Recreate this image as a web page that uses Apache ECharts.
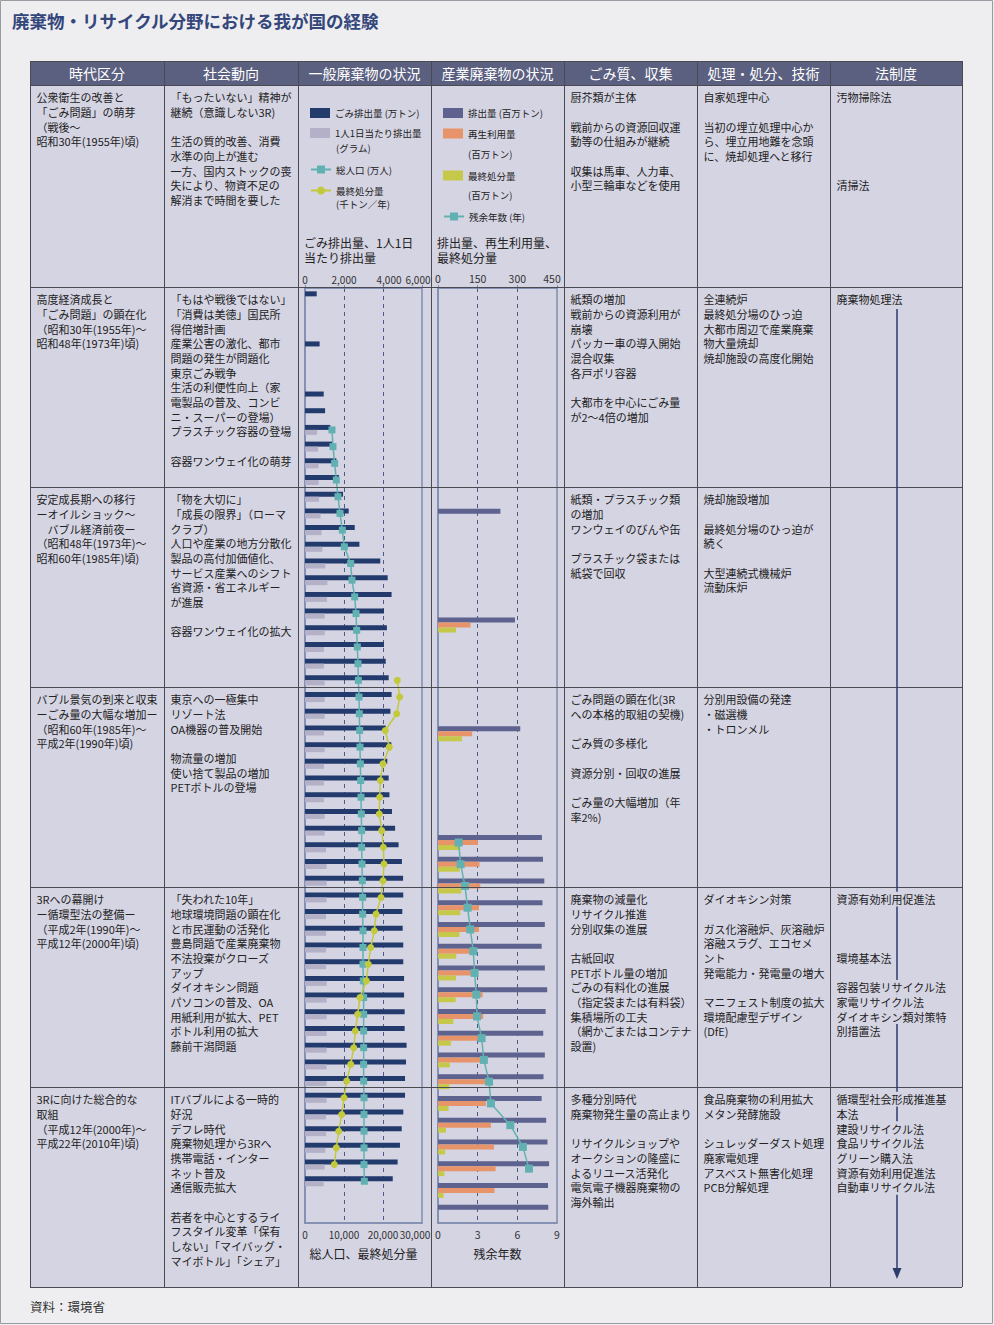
<!DOCTYPE html>
<html><head><meta charset="utf-8">
<script src="https://cdn.jsdelivr.net/npm/echarts@6/dist/echarts.min.js"></script>
<style>html,body{margin:0;padding:0;background:#eeeef1}#c{width:994px;height:1325px}</style>
</head><body><div id="c"></div><script>
const FONT = '"Noto Sans CJK JP","Noto Sans",sans-serif';

// ===== 一般廃棄物 (general waste): 56 time slots, top to bottom =====
const genSlots = ['1','2','3','4','5','6','7','8','9','10','11','12','13','14','15','16','17','18','19','20','21','22','23','24','25','26','27','28','29','30','31','32','33','34','35','36','37','38','39','40','41','42','43','44','45','46','47','48','49','50','51','52','53','54','55','56'];
const gomiTotal = [600,null,null,750,null,null,960,1030,1300,1400,1610,1740,1950,2240,2550,2790,3860,4240,4440,4050,4200,4050,4140,4290,4440,4380,4140,4430,4220,4290,4330,4460,4620,4800,4970,5030,5040,4990,5010,5040,5040,5080,5080,5110,5110,5210,5180,5130,5130,5040,4960,4870,4750,4500,null,null];
const gomiPerCapita = [null,null,null,null,null,null,null,null,620,670,700,700,720,800,850,890,1040,1150,1130,1010,1010,970,970,1010,1010,1010,970,1010,970,970,970,1010,1010,1080,1110,1110,1110,1080,1080,1080,1080,1110,1110,1110,1110,1110,1110,1110,1110,1080,1080,1040,1010,960,null,null];
const population = [null,null,null,null,null,null,null,null,6920,7180,7600,8030,8460,8970,9570,10080,11710,12050,12740,13080,13250,13420,13590,13680,13850,13930,14020,14100,14190,14270,14360,14440,14530,14530,14610,14700,14780,14780,14870,14870,14870,14950,15040,15040,15040,15040,15040,15040,15130,15130,15130,15130,15130,15210,null,null];
const finalGen = [null,null,null,null,null,null,null,null,null,null,null,null,null,null,null,null,null,null,null,null,null,null,null,23670,24280,23510,20590,21610,20000,19310,19150,19050,19670,20080,20260,20000,19490,18200,17770,16850,16230,15720,14100,13510,12900,12490,11720,10690,10000,9410,8640,8030,7510,null,null,null];
const genTopTicks = [0,2000,4000,6000];
const genBottomTicks = [0,10000,20000,30000];

// ===== 産業廃棄物 (industrial waste): 43 time slots =====
const indSlots = ['1','2','3','4','5','6','7','8','9','10','11','12','13','14','15','16','17','18','19','20','21','22','23','24','25','26','27','28','29','30','31','32','33','34','35','36','37','38','39','40','41','42','43'];
const indTotal = [null,null,null,null,null,null,null,null,null,null,236,null,null,null,null,291,null,null,null,null,311,null,null,null,null,393,397,402,395,404,392,404,413,407,398,404,399,392,409,414,420,416,417];
const indRecycled = [null,null,null,null,null,null,null,null,null,null,null,null,null,null,null,123,null,null,null,null,129,null,null,null,null,151,157,160,155,155,146,149,169,171,156,179,186,181,200,212,218,214,null];
const indFinal = [null,null,null,null,null,null,null,null,null,null,null,null,null,null,null,68,null,null,null,null,91,null,null,null,null,84,82,88,84,81,69,68,67,58,49,45,43,40,30,27,24,21,null];
const remainingYears = [null,null,null,null,null,null,null,null,null,null,null,null,null,null,null,null,null,null,null,null,null,null,null,null,null,1.56,1.71,2.04,2.24,2.44,2.67,2.77,2.90,2.95,3.30,3.47,3.86,4.00,5.47,6.42,6.88,null,null];
const indTopTicks = [0,150,300,450];
const indBottomTicks = [0,3,6,9];

// ===== table text =====
const headers = ['時代区分','社会動向','一般廃棄物の状況','産業廃棄物の状況','ごみ質、収集','処理・処分、技術','法制度'];
const colEra = [
 '公衆衛生の改善と\n「ごみ問題」の萌芽\n（戦後～\n昭和30年(1955年)頃)',
 '高度経済成長と\n「ごみ問題」の顕在化\n（昭和30年(1955年)～\n昭和48年(1973年)頃)',
 '安定成長期への移行\nーオイルショック～\n　バブル経済前夜ー\n（昭和48年(1973年)～\n昭和60年(1985年)頃)',
 'バブル景気の到来と収束\nーごみ量の大幅な増加ー\n（昭和60年(1985年)～\n平成2年(1990年)頃)',
 '3Rへの幕開け\nー循環型法の整備ー\n（平成2年(1990年)～\n平成12年(2000年)頃)',
 '3Rに向けた総合的な\n取組\n（平成12年(2000年)～\n平成22年(2010年)頃)'];
const colSociety = [
 '「もったいない」精神が\n継続（意識しない3R)\n\n生活の質的改善、消費\n水準の向上が進む\n一方、国内ストックの喪\n失により、物資不足の\n解消まで時間を要した',
 '「もはや戦後ではない」\n「消費は美徳」国民所\n得倍増計画\n産業公害の激化、都市\n問題の発生が問題化\n東京ごみ戦争\n生活の利便性向上（家\n電製品の普及、コンビ\nニ・スーパーの登場）\nプラスチック容器の登場\n\n容器ワンウェイ化の萌芽',
 '「物を大切に」\n「成長の限界」（ローマ\nクラブ）\n人口や産業の地方分散化\n製品の高付加価値化、\nサービス産業へのシフト\n省資源・省エネルギー\nが進展\n\n容器ワンウェイ化の拡大',
 '東京への一極集中\nリゾート法\nOA機器の普及開始\n\n物流量の増加\n使い捨て製品の増加\nPETボトルの登場',
 '「失われた10年」\n地球環境問題の顕在化\nと市民運動の活発化\n豊島問題で産業廃棄物\n不法投棄がクローズ\nアップ\nダイオキシン問題\nパソコンの普及、OA\n用紙利用が拡大、PET\nボトル利用の拡大\n藤前干潟問題',
 'ITバブルによる一時的\n好況\nデフレ時代\n廃棄物処理から3Rへ\n携帯電話・インター\nネット普及\n通信販売拡大\n\n若者を中心とするライ\nフスタイル変革「保有\nしない」「マイバッグ・\nマイボトル」「シェア」'];
const colCollection = [
 '厨芥類が主体\n\n戦前からの資源回収運\n動等の仕組みが継続\n\n収集は馬車、人力車、\n小型三輪車などを使用',
 '紙類の増加\n戦前からの資源利用が\n崩壊\nパッカー車の導入開始\n混合収集\n各戸ポリ容器\n\n大都市を中心にごみ量\nが2～4倍の増加',
 '紙類・プラスチック類\nの増加\nワンウェイのびんや缶\n\nプラスチック袋または\n紙袋で回収',
 'ごみ問題の顕在化(3R\nへの本格的取組の契機)\n\nごみ質の多様化\n\n資源分別・回収の進展\n\nごみ量の大幅増加（年\n率2%)',
 '廃棄物の減量化\nリサイクル推進\n分別収集の進展\n\n古紙回収\nPETボトル量の増加\nごみの有料化の進展\n（指定袋または有料袋）\n集積場所の工夫\n（網かごまたはコンテナ\n設置)',
 '多種分別時代\n廃棄物発生量の高止まり\n\nリサイクルショップや\nオークションの隆盛に\nよるリユース活発化\n電気電子機器廃棄物の\n海外輸出'];
const colTreatment = [
 '自家処理中心\n\n当初の埋立処理中心か\nら、埋立用地難を念頭\nに、焼却処理へと移行',
 '全連続炉\n最終処分場のひっ迫\n大都市周辺で産業廃棄\n物大量焼却\n焼却施設の高度化開始',
 '焼却施設増加\n\n最終処分場のひっ迫が\n続く\n\n大型連続式機械炉\n流動床炉',
 '分別用設備の発達\n・磁選機\n・トロンメル',
 'ダイオキシン対策\n\nガス化溶融炉、灰溶融炉\n溶融スラグ、エコセメ\nント\n発電能力・発電量の増大\n\nマニフェスト制度の拡大\n環境配慮型デザイン\n(DfE)',
 '食品廃棄物の利用拡大\nメタン発酵施設\n\nシュレッダーダスト処理\n廃家電処理\nアスベスト無害化処理\nPCB分解処理'];
const colLaw = [
 '汚物掃除法\n\n\n\n\n\n清掃法',
 '廃棄物処理法',
 '',
 '',
 '資源有効利用促進法\n\n\n\n環境基本法\n\n容器包装リサイクル法\n家電リサイクル法\nダイオキシン類対策特\n別措置法',
 '循環型社会形成推進基\n本法\n建設リサイクル法\n食品リサイクル法\nグリーン購入法\n資源有効利用促進法\n自動車リサイクル法'];

// ===== layout =====
const colX = [30,164,298,431,564,697,830,962];
const rowY = [61,85,287,487,687,887,1087,1287];
const CELL = '#d5d4e2';
const C_DARK = '#223a6c', C_LIGHT = '#b3b0c8', C_TEAL = '#62b1b2', C_YEL = '#c3c93c';
const C_PURP = '#5d628e', C_ORNG = '#e8946a', C_YEL2 = '#c6c84a';
const AX = '#7f8db0';
const LH = 14.7;

const g = [];
g.push({type:'rect', z:-100, shape:{x:0.5,y:0.5,width:992,height:1323}, style:{fill:'#eeeef1', stroke:'#9a9aa2', lineWidth:1}});
g.push({type:'rect', z:-99, shape:{x:colX[0],y:rowY[1],width:colX[7]-colX[0],height:rowY[7]-rowY[1]}, style:{fill:CELL}});
g.push({type:'rect', z:-99, shape:{x:colX[0],y:rowY[0],width:colX[7]-colX[0],height:rowY[1]-rowY[0]}, style:{fill:'#5b5f80'}});
rowY.forEach(y => g.push({type:'line', z:20, shape:{x1:colX[0],y1:y+0.5,x2:colX[7],y2:y+0.5}, style:{stroke:'#4a4a52', lineWidth:1}}));
colX.forEach(x => g.push({type:'line', z:20, shape:{x1:x+0.5,y1:rowY[0],x2:x+0.5,y2:rowY[7]}, style:{stroke:'#4a4a52', lineWidth:1}}));
headers.forEach((h,i) => g.push({type:'text', z:21, x:(colX[i]+colX[i+1])/2, y:73,
  style:{text:h, fill:'#ffffff', fontSize:14, fontFamily:FONT, align:'center', verticalAlign:'middle'}}));
const cols = [[0,colEra],[1,colSociety],[4,colCollection],[5,colTreatment]];
cols.forEach(([ci,arr]) => arr.forEach((t,ri) => { if (!t) return;
  g.push({type:'text', z:21, x:colX[ci]+6.5, y:rowY[ri+1]+4.8,
    style:{text:t, fill:'#222', fontSize:11, fontFamily:FONT, lineHeight:LH, align:'left', verticalAlign:'top'}}); }));
// law column: one text per line, with cell-coloured backing so the arrow passes behind the words
colLaw.forEach((t,ri) => { if (!t) return;
  t.split('\n').forEach((line,li) => { if (!line) return;
    g.push({type:'text', z:23, x:colX[6]+6.5, y:rowY[ri+1]+4.8+li*LH,
      style:{text:line, fill:'#222', fontSize:11, fontFamily:FONT, lineHeight:LH, align:'left', verticalAlign:'top', backgroundColor:CELL}}); }); });
// axis captions in row 1
g.push({type:'text', z:21, x:304, y:234.5, style:{text:'ごみ排出量、1人1日\n当たり排出量', fill:'#222', fontSize:12, fontFamily:FONT, lineHeight:15, verticalAlign:'top'}});
g.push({type:'text', z:21, x:437, y:234.5, style:{text:'排出量、再生利用量、\n最終処分量', fill:'#222', fontSize:12, fontFamily:FONT, lineHeight:15, verticalAlign:'top'}});
// legend second lines
[[336,148,'(グラム)'],[336,204,'(千トン／年)'],[468,154,'(百万トン)'],[468,195,'(百万トン)']].forEach(([x,y,t]) =>
  g.push({type:'text', z:21, x, y, style:{text:t, fill:'#222', fontSize:9.5, fontFamily:FONT, verticalAlign:'middle'}}));
// arrow in law column
g.push({type:'line', z:22, shape:{x1:897,y1:309,x2:897,y2:1270}, style:{stroke:'#2b3d6b', lineWidth:1.5}});
g.push({type:'polygon', z:22, shape:{points:[[892.5,1268],[901.5,1268],[897,1279]]}, style:{fill:'#2b3d6b'}});
g.push({type:'text', z:21, x:30, y:1306, style:{text:'資料：環境省', fill:'#333', fontSize:12.5, fontFamily:FONT, verticalAlign:'middle'}});

function shifted(shifts){
  const rich = {};
  Object.values(shifts).forEach(s => { rich['s'+(s<0?'m':'p')+Math.abs(s)] = {padding: s>0?[0,0,0,2*s]:[0,-2*s,0,0]}; });
  return {formatter: v => { const t = echarts.format.addCommas(v); const s = shifts[v]; return s ? `{s${s<0?'m':'p'}${Math.abs(s)}|${t}}` : t; }, rich};
}
function valAxis(gi, pos, ticks, split, shifts, name, fs){
  const lab = shifted(shifts);
  const ax = {gridIndex:gi, type:'value', position:pos, min:ticks[0], max:ticks[ticks.length-1], interval:ticks[1]-ticks[0],
    axisLine:{show:true, lineStyle:{color:AX, width:1.5}},
    axisTick:{show:pos==='top', length:3, lineStyle:{color:AX}},
    axisLabel:{margin:pos==='top'?4:6, fontSize:fs||10.5, color:'#333', fontFamily:FONT, showMinLabel:true, showMaxLabel:true, hideOverlap:false,
      formatter:lab.formatter, rich:lab.rich},
    splitLine: split ? {show:true, showMinLine:false, showMaxLine:false, lineStyle:{color:'#4c5a86', type:[4,4], width:1}} : {show:false}};
  if (name) { ax.name = name; ax.nameLocation = 'middle'; ax.nameGap = 24; ax.nameTextStyle = {fontSize:12, color:'#222', fontFamily:FONT}; }
  return ax;
}
function catAxis(gi, data){
  return {gridIndex:gi, type:'category', data, inverse:true, axisLine:{show:true, lineStyle:{color:AX, width:1.5}}, axisTick:{show:false}, axisLabel:{show:false}, splitLine:{show:false}};
}
function legendItem(name, label, left, cy, isLine){
  const o = {data:[name], left, top:cy-5, orient:'vertical', padding:0, itemWidth:20, itemHeight:10, selectedMode:false,
    textStyle:{fontSize:9.5, color:'#222', fontFamily:FONT, lineHeight:10}, formatter:() => label};
  if (!isLine) o.icon = 'rect';
  return o;
}

const N = {
  g1:'ごみ排出量 (万トン)', g2:'1人1日当たり排出量 (グラム)', g3:'総人口 (万人)', g4:'最終処分量 (千トン／年)',
  i1:'排出量 (百万トン)', i2:'再生利用量 (百万トン)', i3:'最終処分量 (百万トン)', i4:'残余年数 (年)'
};

const option = {
  animation:false,
  backgroundColor:'#eeeef1',
  title:{text:'廃棄物・リサイクル分野における我が国の経験', left:12, top:12, padding:0,
    textStyle:{fontSize:17.5, fontWeight:'bold', color:'#34467a', fontFamily:FONT}},
  graphic:{elements:g},
  legend:[
    legendItem(N.g1,'ごみ排出量 (万トン)',310,113,false),
    legendItem(N.g2,'1人1日当たり排出量',310,133,false),
    legendItem(N.g3,'総人口 (万人)',310,169.5,true),
    legendItem(N.g4,'最終処分量',310,190.5,true),
    legendItem(N.i1,'排出量 (百万トン)',443,113,false),
    legendItem(N.i2,'再生利用量',443,133.5,false),
    legendItem(N.i3,'最終処分量',443,175.5,false),
    legendItem(N.i4,'残余年数 (年)',443,216.5,true)
  ],
  grid:[
    {left:305, top:288, width:117, height:935, show:true, borderColor:AX, borderWidth:1.5, backgroundColor:'transparent'},
    {left:438, top:288, width:119, height:935, show:true, borderColor:AX, borderWidth:1.5, backgroundColor:'transparent'}
  ],
  xAxis:[
    valAxis(0,'top',genTopTicks,true,{4000:6,6000:-4},null,10),
    valAxis(0,'bottom',genBottomTicks,false,{30000:-7},'総人口、最終処分量',10),
    valAxis(1,'top',indTopTicks,true,{450:-5}),
    valAxis(1,'bottom',indBottomTicks,false,{},'残余年数')
  ],
  yAxis:[catAxis(0,genSlots), catAxis(1,indSlots)],
  series:[
    {name:N.g1, type:'bar', xAxisIndex:0, yAxisIndex:0, data:gomiTotal, barWidth:5, barGap:'0%', itemStyle:{color:C_DARK}},
    {name:N.g2, type:'bar', xAxisIndex:0, yAxisIndex:0, data:gomiPerCapita, barWidth:5, barGap:'0%', itemStyle:{color:C_LIGHT}},
    {name:N.g3, type:'line', xAxisIndex:1, yAxisIndex:0, data:population, symbol:'rect', symbolSize:7, z:5,
      itemStyle:{color:C_TEAL}, lineStyle:{color:C_TEAL, width:1.5}},
    {name:N.g4, type:'line', xAxisIndex:1, yAxisIndex:0, data:finalGen, symbol:'circle', symbolSize:7, z:6,
      itemStyle:{color:C_YEL}, lineStyle:{color:C_YEL, width:1.5}},
    {name:N.i1, type:'bar', xAxisIndex:2, yAxisIndex:1, data:indTotal, barWidth:5, barGap:'0%', itemStyle:{color:C_PURP}},
    {name:N.i2, type:'bar', xAxisIndex:2, yAxisIndex:1, data:indRecycled, barWidth:5, barGap:'0%', itemStyle:{color:C_ORNG}},
    {name:N.i3, type:'bar', xAxisIndex:2, yAxisIndex:1, data:indFinal, barWidth:5, barGap:'0%', itemStyle:{color:C_YEL2}},
    {name:N.i4, type:'line', xAxisIndex:3, yAxisIndex:1, data:remainingYears, symbol:'rect', symbolSize:8, z:5,
      itemStyle:{color:C_TEAL}, lineStyle:{color:C_TEAL, width:1.5}}
  ]
};
const chart = echarts.init(document.getElementById('c'), null, {renderer:'svg', width:994, height:1325});
chart.setOption(option);
</script></body></html>
